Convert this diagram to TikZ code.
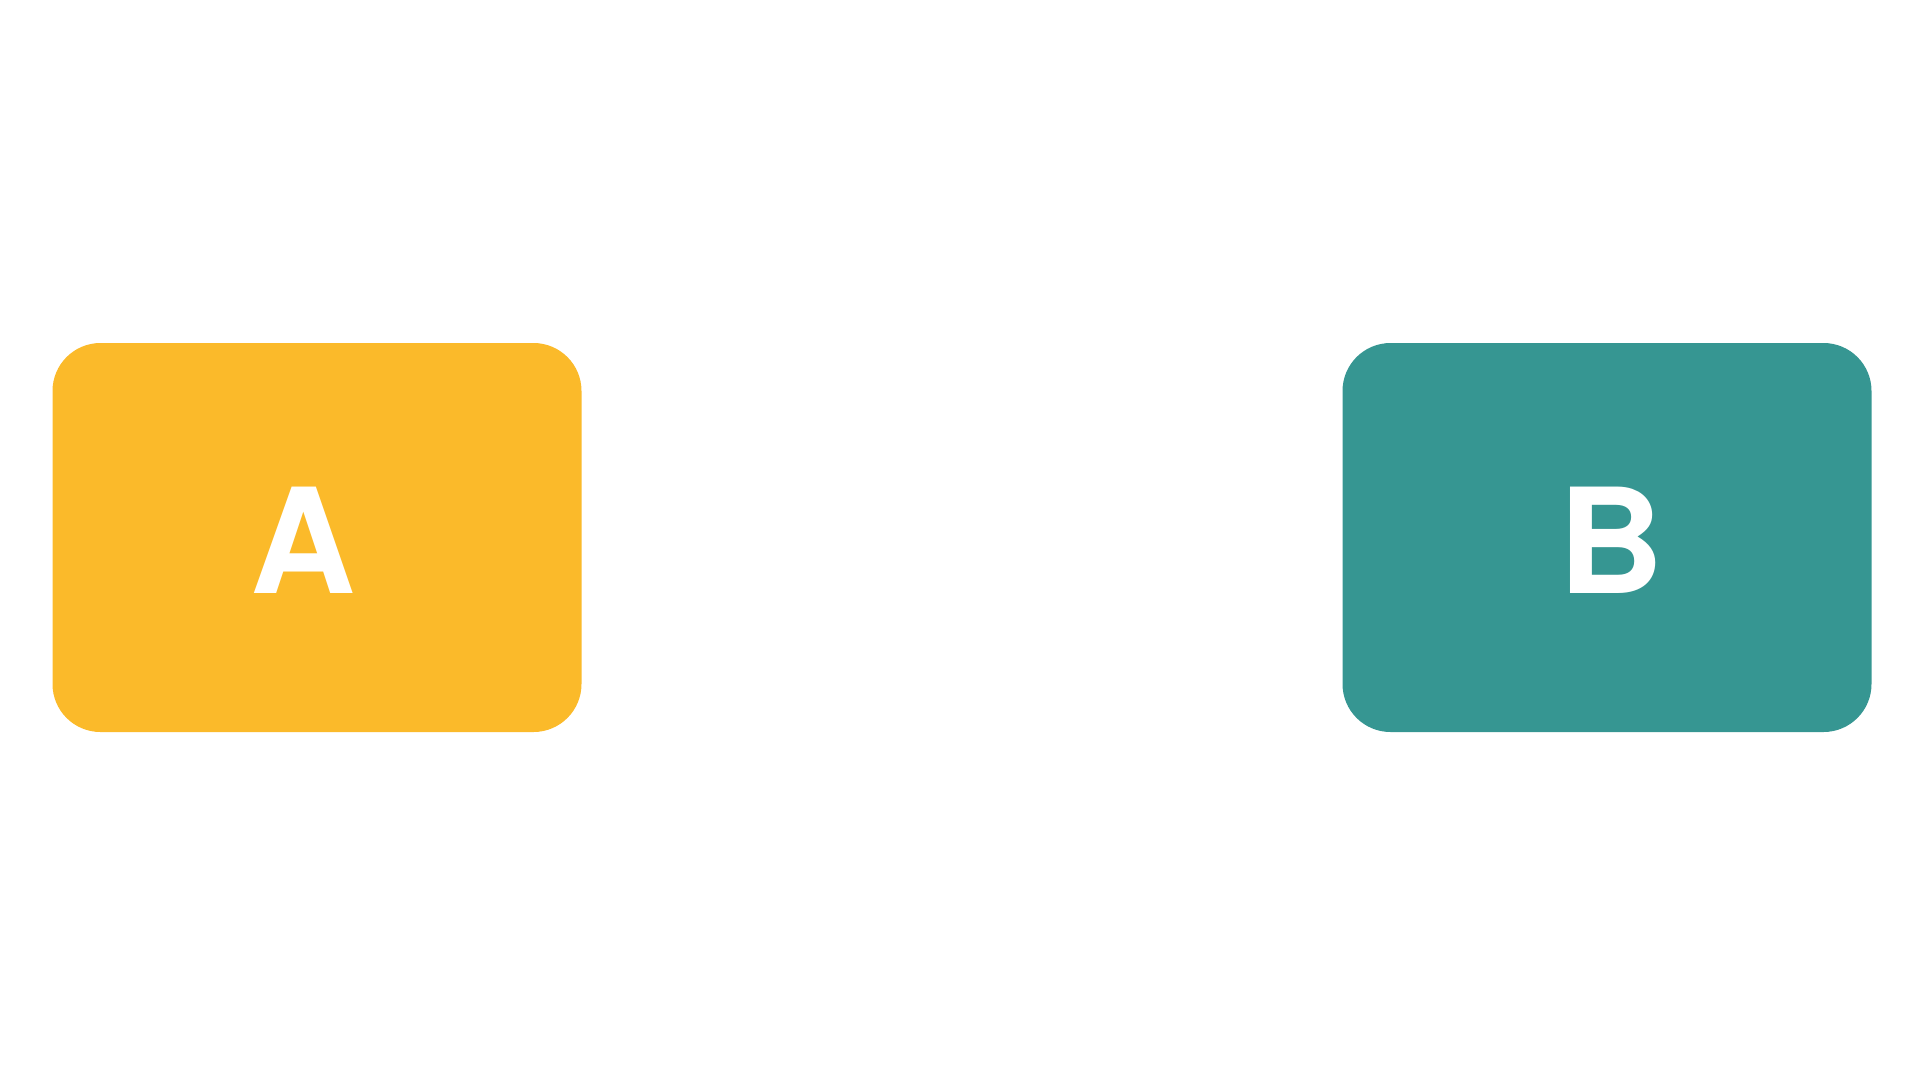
\documentclass[tikz,border=0pt]{standalone}
\usepackage{fontspec}
\setmainfont{TeX Gyre Heros}
\definecolor{boxyellow}{HTML}{FBBA2A}
\definecolor{boxteal}{HTML}{369692}
\begin{document}
\begin{tikzpicture}[x=1pt,y=-1pt,
  card/.style={draw=none,rounded corners=48pt,minimum width=529pt,minimum height=389pt,inner sep=0pt},
  letter/.style={text=white,font=\fontsize{146}{146}\selectfont\bfseries,inner sep=0pt,anchor=base}]
\useasboundingbox (0,0) rectangle (1920,1080);
\node[card,fill=boxyellow] (a) at (317,537.5) {};
\node[card,fill=boxteal] (b) at (1607,537.5) {};
\node[letter] (la) at (303,593) {A};
\node[letter] (lb) at (1611,593) {B};
\end{tikzpicture}
\end{document}
